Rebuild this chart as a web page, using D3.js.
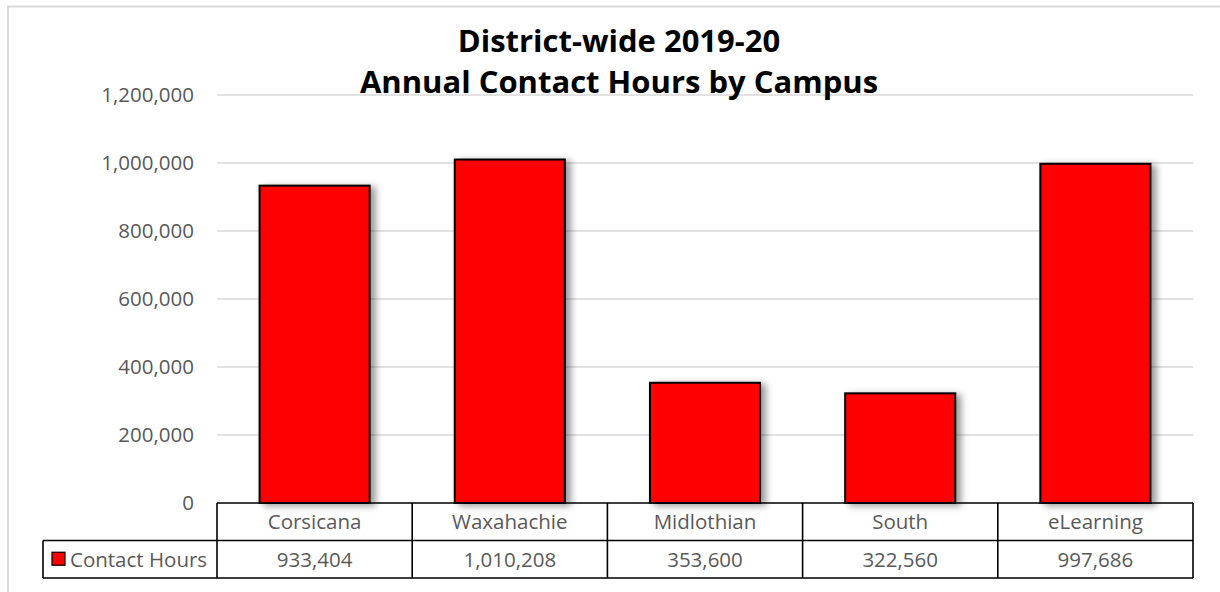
<!DOCTYPE html>
<html>
<head>
<meta charset="utf-8">
<script src="https://cdn.jsdelivr.net/npm/d3@7/dist/d3.min.js"></script>
<style>
  body { margin: 0; background: #fff; }
  svg { display: block; font-family: 'Open Sans', sans-serif; }
  .grid line { stroke: #d9d9d9; stroke-width: 1.5; }
  .tick-label { fill: #595959; font-size: 20.5px; }
  .cell-text { fill: #595959; font-size: 20.5px; }
  .table-line { stroke: #000; stroke-width: 1.6; fill: none; }
</style>
</head>
<body>
<svg id="chart" width="1220" height="592"></svg>
<script>
// data
var campuses = ['Corsicana', 'Waxahachie', 'Midlothian', 'South', 'eLearning'];
var contactHours = [933404, 1010208, 353600, 322560, 997686];
var yTicks = [0, 200000, 400000, 600000, 800000, 1000000, 1200000];
var seriesName = 'Contact Hours';
var titleLines = ['District-wide 2019-20', 'Annual Contact Hours by Campus'];

var settings = {
    left: 217,
    right: 1193,
    top: 95,
    bottom: 503,
    rowHeight: 37.5,
    legendLeft: 43,
    barColor: '#ff0000'
};

var svg = d3.select('#chart');
var fmt = d3.format(',');

// shadow for the bars
var filter = svg.append('defs').append('filter')
    .attr('id', 'shadow')
    .attr('x', '-20%').attr('y', '-20%')
    .attr('width', '150%').attr('height', '150%');
filter.append('feDropShadow')
    .attr('dx', 5)
    .attr('dy', 2)
    .attr('stdDeviation', 3.5)
    .attr('flood-color', '#000')
    .attr('flood-opacity', 0.4);

// chart area border
svg.append('rect')
    .attr('x', 8)
    .attr('y', 6.5)
    .attr('width', 1300)
    .attr('height', 700)
    .attr('fill', 'none')
    .attr('stroke', '#d9d9d9')
    .attr('stroke-width', 2);

var y = d3.scaleLinear()
    .domain([0, 1200000])
    .range([settings.bottom, settings.top]);

var x = d3.scaleBand()
    .domain(campuses)
    .range([settings.left, settings.right])
    .paddingInner(0.436)
    .paddingOuter(0.218);

// gridlines
svg.append('g').classed('grid', true).selectAll('line')
    .data(yTicks.slice(1))
    .enter().append('line')
        .attr('x1', settings.left)
        .attr('x2', settings.right)
        .attr('y1', function(d) { return y(d); })
        .attr('y2', function(d) { return y(d); });

// y labels
svg.append('g').selectAll('text')
    .data(yTicks)
    .enter().append('text')
        .classed('tick-label', true)
        .attr('x', 194)
        .attr('y', function(d) { return y(d); })
        .attr('dy', '0.36em')
        .attr('text-anchor', 'end')
        .text(fmt);

// bars
svg.append('g').selectAll('rect')
    .data(campuses)
    .enter().append('rect')
        .attr('x', function(d) { return x(d); })
        .attr('y', function(d, i) { return y(contactHours[i]); })
        .attr('width', x.bandwidth())
        .attr('height', function(d, i) { return y(0) - y(contactHours[i]); })
        .attr('fill', settings.barColor)
        .attr('stroke', '#000')
        .attr('stroke-width', 2)
        .attr('filter', 'url(#shadow)');

// title
svg.append('text')
    .attr('x', 619)
    .attr('text-anchor', 'middle')
    .attr('font-weight', 'bold')
    .attr('font-size', 31)
    .attr('fill', '#000')
    .selectAll('tspan')
    .data(titleLines)
    .enter().append('tspan')
        .attr('x', 619)
        .attr('y', function(d, i) { return 52 + i * 41; })
        .text(function(d) { return d; });

// data table
var table = svg.append('g');
var row1 = settings.bottom,
    row2 = row1 + settings.rowHeight,
    row3 = row2 + settings.rowHeight;
var step = x.step();
var bounds = campuses.map(function(d) { return x(d) - x.paddingInner() * step / 2; });
bounds.push(settings.right);

table.append('path')
    .classed('table-line', true)
    .attr('d',
        'M' + settings.left + ',' + row1 + 'H' + settings.right +
        'M' + settings.legendLeft + ',' + row2 + 'H' + settings.right +
        'M' + settings.legendLeft + ',' + row3 + 'H' + settings.right +
        'M' + settings.legendLeft + ',' + row2 + 'V' + row3);

table.selectAll('.vline')
    .data(bounds)
    .enter().append('line')
        .classed('table-line vline', true)
        .attr('x1', function(d) { return d; })
        .attr('x2', function(d) { return d; })
        .attr('y1', row1)
        .attr('y2', row3);

table.selectAll('.cat')
    .data(campuses)
    .enter().append('text')
        .classed('cell-text cat', true)
        .attr('x', function(d) { return x(d) + x.bandwidth() / 2; })
        .attr('y', (row1 + row2) / 2)
        .attr('dy', '0.36em')
        .attr('text-anchor', 'middle')
        .text(function(d) { return d; });

table.selectAll('.val')
    .data(contactHours)
    .enter().append('text')
        .classed('cell-text val', true)
        .attr('x', function(d, i) { return x(campuses[i]) + x.bandwidth() / 2; })
        .attr('y', (row2 + row3) / 2)
        .attr('dy', '0.36em')
        .attr('text-anchor', 'middle')
        .text(fmt);

// legend key
table.append('rect')
    .attr('x', 52)
    .attr('y', (row2 + row3) / 2 - 7)
    .attr('width', 13)
    .attr('height', 13)
    .attr('fill', settings.barColor)
    .attr('stroke', '#000')
    .attr('stroke-width', 1.2);

table.append('text')
    .classed('cell-text', true)
    .attr('x', 70)
    .attr('y', (row2 + row3) / 2)
    .attr('dy', '0.36em')
    .text(seriesName);
</script>
</body>
</html>
